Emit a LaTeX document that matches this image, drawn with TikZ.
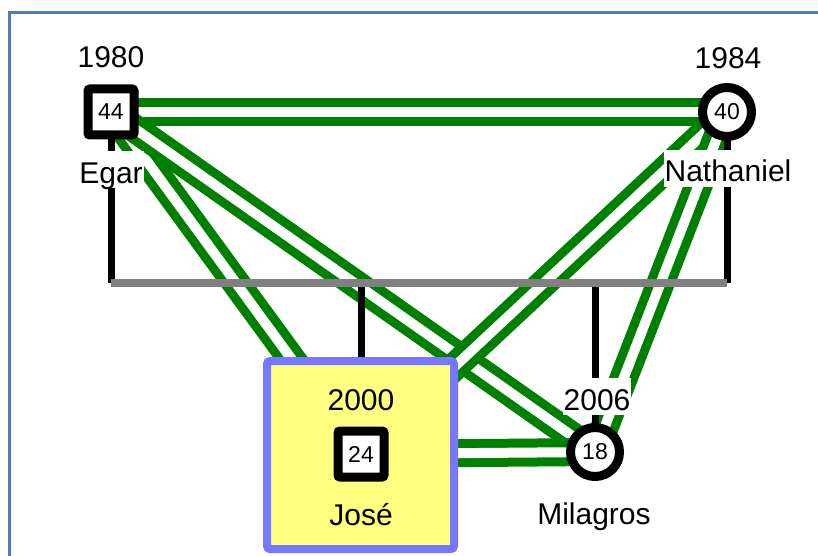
\documentclass[tikz,border=0pt]{standalone}
\usepackage{fontspec}
\setmainfont{Liberation Sans}
\pgfdeclarelayer{bg}
\pgfsetlayers{bg,main}
\definecolor{grn}{RGB}{0,128,0}
\definecolor{gry}{RGB}{128,128,128}
\definecolor{boxfill}{RGB}{255,255,128}
\definecolor{boxdraw}{RGB}{119,119,255}
\definecolor{framec}{RGB}{70,125,195}
\tikzset{
  rel/.style={draw=grn, line width=9pt, double=white, double distance=10pt},
  kin/.style={draw=black, line width=7pt},
  sib/.style={draw=gry, line width=8pt},
  male/.style={draw=black, rectangle, line width=9pt, minimum size=46pt, inner sep=0pt,
    rounded corners=2pt, fill=white, font=\fontsize{23}{23}\selectfont},
  female/.style={draw=black, circle, line width=9pt, minimum size=49pt, inner sep=0pt,
    fill=white, font=\fontsize{23}{23}\selectfont},
  selbox/.style={draw=boxdraw, fill=boxfill, line width=8pt, rectangle, rounded corners=3pt,
    minimum width=187pt, minimum height=188pt, inner sep=0pt},
  lbl/.style={font=\fontsize{30}{30}\selectfont, inner sep=0pt, anchor=base},
  lblbg/.style={lbl, fill=white, text height=30pt, text depth=3pt, inner xsep=1pt, inner ysep=2pt},
  framel/.style={draw=framec, line width=2.5pt}
}
\begin{document}
\begin{tikzpicture}[x=1pt,y=-1pt]
\useasboundingbox (0,0) rectangle (818,556);
\draw[framel] (9.5,556) -- (9.5,12.5) -- (818,12.5);

\node[male] (egar) at (111,112) {44};
\node[female] (nath) at (727,112) {40};
\node[selbox] (josebox) at (360.5,455) {};
\node[male] (jose) at (361,454) {24};
\node[female] (mila) at (595,452) {18};

\node[lbl] (egary) at (111,68) {1980};
\node[lblbg] (egarn) at (111,183) {Egar};
\node[lbl] (nathy) at (728,69) {1984};
\node[lblbg] (nathn) at (728,182) {Nathaniel};
\node[lbl] (josey) at (361,410) {2000};
\node[lbl] (josen) at (361,525) {José};
\node[lblbg] (milay) at (597,410) {2006};
\node[lbl] (milan) at (594,524) {Milagros};

\coordinate (fl) at (111,283);
\coordinate (fr) at (727,283);
\coordinate (cj) at (361,283);
\coordinate (cm) at (595,283);

\begin{pgfonlayer}{bg}
\draw[rel] (egar.center) -- (nath.center);
\draw[rel] (egar.center) -- (jose.center);
\draw[rel] (egar.center) -- (mila.center);
\draw[rel] (nath.center) -- (jose.center);
\draw[rel] (nath.center) -- (mila.center);
\draw[rel] (jose.center) -- (mila.center);
\draw[kin] (egar.center) -- (fl);
\draw[kin] (nath.center) -- (fr);
\draw[kin] (cj) -- (jose.center);
\draw[kin] (cm) -- (mila.center);
\draw[sib] (fl) -- (fr);
\end{pgfonlayer}
\end{tikzpicture}
\end{document}
